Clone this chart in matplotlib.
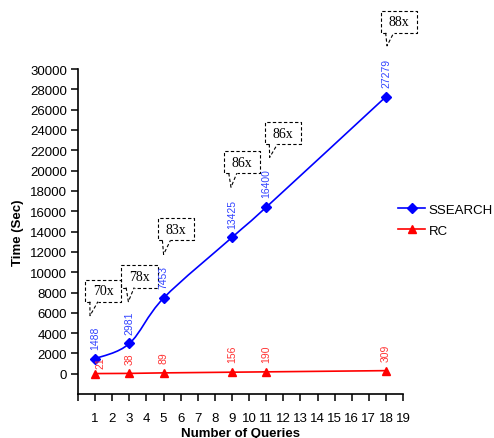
import numpy as np
import matplotlib
matplotlib.use("Agg")
import matplotlib.pyplot as plt
from matplotlib.path import Path
from matplotlib.patches import PathPatch

plt.rcParams['font.family'] = ['Liberation Sans', 'DejaVu Sans']

queries = [1, 3, 5, 9, 11, 18]
ssearch = [1488, 2981, 7453, 13425, 16400, 27279]
rc = [21, 38, 89, 156, 190, 309]
speedup = ['70x', '78x', '83x', '86x', '86x', '88x']

# callout box placement (left x, bottom y, tail x, tail y) in data units
callout_pos = [(0.41, 7100, 0.70, 5720),
               (2.53, 8490, 2.94, 7100),
               (4.65, 13130, 5.00, 11750),
               (8.53, 19740, 8.94, 18360),
               (10.90, 22600, 11.20, 21300),
               (17.70, 33560, 18.06, 32280)]

fig = plt.figure(figsize=(4.94, 4.39), dpi=100)
ax = fig.add_axes([0.158, 0.100, 0.658, 0.7405])


def smooth_path(xs, ys):
    # Excel-like smoothed line (Catmull-Rom as cubic Bezier)
    p = np.column_stack([xs, ys]).astype(float)
    p_ext = np.vstack([p[0], p, p[-1]])
    verts = [p[0]]
    codes = [Path.MOVETO]
    for i in range(len(p) - 1):
        p0, p1, p2, p3 = p_ext[i], p_ext[i + 1], p_ext[i + 2], p_ext[i + 3]
        c1 = p1 + (p2 - p0) / 6
        c2 = p2 - (p3 - p1) / 6
        verts += [c1, c2, p2]
        codes += [Path.CURVE4] * 3
    return Path(verts, codes)


ax.add_patch(PathPatch(smooth_path(queries, ssearch), fill=False,
                       edgecolor='#0000ff', lw=1.2))
ax.plot(queries, ssearch, ls='none', marker='D', ms=5, color='#0000ff')
ax.plot(queries, rc, color='#ff0000', lw=1.2, marker='^', ms=6)

# legend proxies
h1, = ax.plot([], [], color='#0000ff', lw=1.2, marker='D', ms=5, label='SSEARCH')
h2, = ax.plot([], [], color='#ff0000', lw=1.2, marker='^', ms=6, label='RC')
ax.legend([h1, h2], ['SSEARCH', 'RC'], loc='center left', bbox_to_anchor=(0.985, 0.535),
          frameon=False, fontsize=9.5, handlelength=2.05, handletextpad=0.25,
          labelspacing=0.65, borderpad=0, borderaxespad=0)

for x, y in zip(queries, ssearch):
    ax.annotate(str(y), (x, y), xytext=(0, 7), textcoords='offset points',
                rotation=90, ha='center', va='bottom', fontsize=7.5,
                color='#3344ff')
for i, (x, y) in enumerate(zip(queries, rc)):
    dx, dy = (4, 4) if i == 0 else (0, 7)
    ax.annotate(str(y), (x, y), xytext=(dx, dy), textcoords='offset points',
                rotation=90, ha='center', va='bottom', fontsize=7.5,
                color='#ff3333')

# dashed callouts
bw, bh = 2.12, 2170
for txt, (bx, by, tx, ty) in zip(speedup, callout_pos):
    kw = dict(color='black', lw=0.8, ls=(0, (3, 2)), clip_on=False)
    b1, b2 = bx + 0.28, bx + 0.75
    ax.plot([b1, bx, bx, bx + bw, bx + bw, b2], [by, by, by + bh, by + bh, by, by], **kw)
    ax.plot([b1, tx, b2], [by, ty, by], **kw)
    ax.text(bx + bw / 2, by + bh / 2, txt, ha='center', va='center',
            fontsize=10, family='Liberation Serif', clip_on=False)

ax.set_xlim(0, 19)
ax.set_ylim(-2000, 30000)
ax.set_xticks(range(0, 20))
ax.set_xticklabels([''] + [str(i) for i in range(1, 20)])
ax.set_yticks(range(0, 30001, 2000))
ax.spines['top'].set_visible(False)
ax.spines['right'].set_visible(False)
for s in ['left', 'bottom']:
    ax.spines[s].set_linewidth(1.2)
ax.tick_params(axis='both', direction='out', length=5, width=1.1, labelsize=9.5)
ax.tick_params(axis='x', pad=8)
ax.tick_params(axis='y', pad=3)

ax.set_xlabel('Number of Queries', fontsize=9.5, fontweight='bold', labelpad=2)
ax.set_ylabel('Time (Sec)', fontsize=9.5, fontweight='bold', labelpad=4)

fig.savefig('out.png', dpi=100)
